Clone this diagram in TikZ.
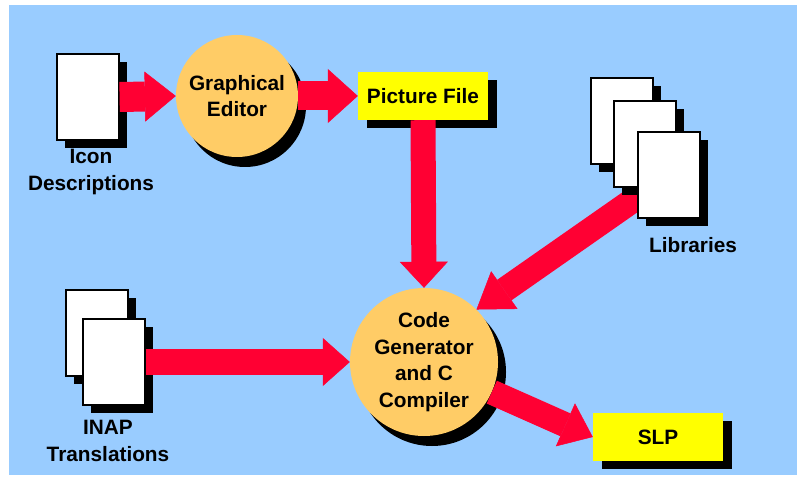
\documentclass[tikz,border=0pt]{standalone}
\usepackage{fontspec}
\setsansfont{Liberation Sans}
\usetikzlibrary{arrows.meta,shadows}
\pgfdeclarelayer{background}
\pgfsetlayers{background,main}
\definecolor{skyblue}{HTML}{99CCFF}
\definecolor{peach}{HTML}{FFCC66}
\definecolor{flowred}{HTML}{FF0033}
\definecolor{boxyellow}{HTML}{FFFF00}

\tikzset{
  sheet/.style={draw,fill=white,line width=1.2pt,minimum width=62pt,minimum height=86pt,inner sep=0pt,
    general shadow={fill=black,shadow xshift=8pt,shadow yshift=-8pt}},
  process/.style={circle,fill=peach,align=center,inner sep=0pt,
    general shadow={fill=black,shadow xshift=8pt,shadow yshift=-10pt}},
  filebox/.style={fill=boxyellow,minimum width=130pt,minimum height=48pt,inner sep=0pt,
    general shadow={fill=black,shadow xshift=9pt,shadow yshift=-8pt}},
  caption/.style={align=center},
  flow/.style n args={3}{draw=flowred,line width=#1,-{Triangle[length=#2,width=#3,line width=0.5pt]}},
}

\begin{document}
\begin{tikzpicture}[x=1pt,y=-1pt,font=\sffamily\bfseries\fontsize{20.8}{26.5}\selectfont]

\useasboundingbox(0,0)rectangle(797,478);
\begin{pgfonlayer}{background}
\fill[skyblue](9,5)rectangle(797,475);
\end{pgfonlayer}

\node[sheet](icondoc) at (88,97) {};
\node[caption](iconlbl) at (91,172) {Icon\\Descriptions};
\node[process,minimum size=122pt](gedit) at (237,96) {Graphical\\Editor};
\node[filebox](picfile) at (423,96) {Picture File};

\node[sheet](libs1) at (622,121) {};
\node[sheet](libs2) at (645,144) {};
\node[sheet](libs3) at (669,175) {};
\node[caption](libslbl) at (693,245) {Libraries};

\node[sheet](inap1) at (97,333) {};
\node[sheet](inap2) at (114,362) {};
\node[caption](inaplbl) at (108,441) {INAP\\Translations};

\node[process,minimum size=148pt](codegen) at (424,362) {Code\\Generator\\and C\\Compiler};
\node[filebox](slp) at (658,437) {SLP};

\path(icondoc.east)edge[flow={30pt}{31pt}{50pt}](gedit.west)
     (gedit)edge[flow={29pt}{30pt}{54pt}](picfile.west)
     (picfile.south)edge[flow={25pt}{26pt}{48pt}](codegen.north)
     (inap2.east)edge[flow={26pt}{27pt}{48pt}](codegen.west)
     (codegen)edge[flow={25pt}{30pt}{47pt}](slp.west)
     ;
\begin{pgfonlayer}{background}
\path(libs3.center)edge[flow={25pt}{34pt}{46pt}](codegen.45);
\end{pgfonlayer}

\end{tikzpicture}
\end{document}
